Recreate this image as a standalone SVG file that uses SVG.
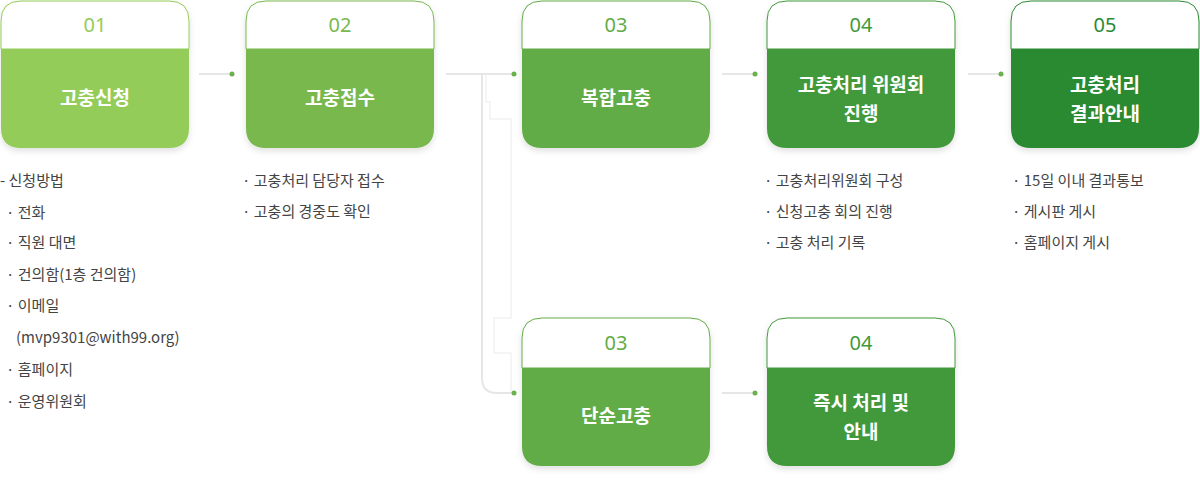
<svg xmlns="http://www.w3.org/2000/svg" width="1200" height="482" viewBox="0 0 1200 482">
<style>
.num{font-family:"Noto Sans","Noto Sans CJK KR",sans-serif;font-size:20px;text-anchor:middle}
.ttl{font-family:"Noto Sans CJK KR",sans-serif;font-size:19px;font-weight:bold;fill:#fff;text-anchor:middle}
.d{font-family:"Noto Sans CJK KR",sans-serif;font-size:15px;fill:#444}
.ln{stroke:#e6e6e6;stroke-width:2;fill:none}
.dot{fill:#6ab04c}
</style>
<defs>
<filter id="sh" x="-10%" y="-10%" width="120%" height="130%"><feDropShadow dx="0" dy="3" stdDeviation="3" flood-color="#000" flood-opacity="0.12"/></filter>
</defs>
<g id="connectors">
<line class="ln" x1="199" y1="74" x2="232" y2="74"/><circle class="dot" cx="232" cy="74" r="2.5"/>
<line class="ln" x1="446" y1="74" x2="514" y2="74"/><circle class="dot" cx="514" cy="74" r="2.5"/>
<path class="ln" d="M482 74 V378 Q482 393 497 393 H514"/><circle class="dot" cx="514" cy="393" r="2.5"/>
<path d="M486 75 V102 H490 V119 H511 V318 H494 V353 H511 V392" stroke="#f2f2f2" stroke-width="1.5" fill="none"/>
<line class="ln" x1="722" y1="74" x2="755" y2="74"/><circle class="dot" cx="755" cy="74" r="2.5"/>
<line class="ln" x1="968" y1="74" x2="1001" y2="74"/><circle class="dot" cx="1001" cy="74" r="2.5"/>
<line class="ln" x1="722" y1="393" x2="755" y2="393"/><circle class="dot" cx="755" cy="393" r="2.5"/>
</g>
<g id="n1"><g filter="url(#sh)"><path d="M1 21 Q1 1 21 1 H169 Q189 1 189 21 V49 H1Z" fill="#fff" stroke="#93cc58"/><path d="M1 49 H189 V128 Q189 148 169 148 H21 Q1 148 1 128Z" fill="#93cc58"/></g>
<text class="num" x="95" y="32" fill="#93cc58">01</text><text class="ttl" x="95" y="105">고충신청</text></g>
<g id="n2"><g filter="url(#sh)"><path d="M246 21 Q246 1 266 1 H414 Q434 1 434 21 V49 H246Z" fill="#fff" stroke="#79b84e"/><path d="M246 49 H434 V128 Q434 148 414 148 H266 Q246 148 246 128Z" fill="#79b84e"/></g>
<text class="num" x="340" y="32" fill="#79b84e">02</text><text class="ttl" x="340" y="105">고충접수</text></g>
<g id="n3"><g filter="url(#sh)"><path d="M522 21 Q522 1 542 1 H690 Q710 1 710 21 V49 H522Z" fill="#fff" stroke="#62ac46"/><path d="M522 49 H710 V128 Q710 148 690 148 H542 Q522 148 522 128Z" fill="#62ac46"/></g>
<text class="num" x="616" y="32" fill="#62ac46">03</text><text class="ttl" x="616" y="105">복합고충</text></g>
<g id="n4"><g filter="url(#sh)"><path d="M767 21 Q767 1 787 1 H935 Q955 1 955 21 V49 H767Z" fill="#fff" stroke="#43993a"/><path d="M767 49 H955 V128 Q955 148 935 148 H787 Q767 148 767 128Z" fill="#43993a"/></g>
<text class="num" x="861" y="32" fill="#43993a">04</text><text class="ttl" x="861" y="92">고충처리 위원회</text><text class="ttl" x="861" y="121">진행</text></g>
<g id="n5"><g filter="url(#sh)"><path d="M1011 21 Q1011 1 1031 1 H1179 Q1199 1 1199 21 V49 H1011Z" fill="#fff" stroke="#2b8a33"/><path d="M1011 49 H1199 V128 Q1199 148 1179 148 H1031 Q1011 148 1011 128Z" fill="#2b8a33"/></g>
<text class="num" x="1105" y="32" fill="#2b8a33">05</text><text class="ttl" x="1105" y="92">고충처리</text><text class="ttl" x="1105" y="121">결과안내</text></g>
<g id="n6"><g filter="url(#sh)"><path d="M522 338 Q522 318 542 318 H690 Q710 318 710 338 V368 H522Z" fill="#fff" stroke="#62ac46"/><path d="M522 368 H710 V446 Q710 466 690 466 H542 Q522 466 522 446Z" fill="#62ac46"/></g>
<text class="num" x="616" y="350" fill="#62ac46">03</text><text class="ttl" x="616" y="423">단순고충</text></g>
<g id="n7"><g filter="url(#sh)"><path d="M767 338 Q767 318 787 318 H935 Q955 318 955 338 V368 H767Z" fill="#fff" stroke="#43993a"/><path d="M767 368 H955 V446 Q955 466 935 466 H787 Q767 466 767 446Z" fill="#43993a"/></g>
<text class="num" x="861" y="350" fill="#43993a">04</text><text class="ttl" x="861" y="410">즉시 처리 및</text><text class="ttl" x="861" y="439">안내</text></g>
<g id="desc">
<text class="d" x="0" y="186">- 신청방법</text>
<text class="d" x="6" y="218">· 전화</text>
<text class="d" x="6" y="248">· 직원 대면</text>
<text class="d" x="6" y="280">· 건의함(1층 건의함)</text>
<text class="d" x="6" y="311">· 이메일</text>
<text class="d" x="16" y="343">(mvp9301@with99.org)</text>
<text class="d" x="6" y="375">· 홈페이지</text>
<text class="d" x="6" y="407">· 운영위원회</text>
<text class="d" x="242" y="186">· 고충처리 담당자 접수</text>
<text class="d" x="242" y="217">· 고충의 경중도 확인</text>
<text class="d" x="764" y="186">· 고충처리위원회 구성</text>
<text class="d" x="764" y="217">· 신청고충 회의 진행</text>
<text class="d" x="764" y="248">· 고충 처리 기록</text>
<text class="d" x="1012" y="186">· 15일 이내 결과통보</text>
<text class="d" x="1012" y="217">· 게시판 게시</text>
<text class="d" x="1012" y="248">· 홈페이지 게시</text>
</g>
</svg>
